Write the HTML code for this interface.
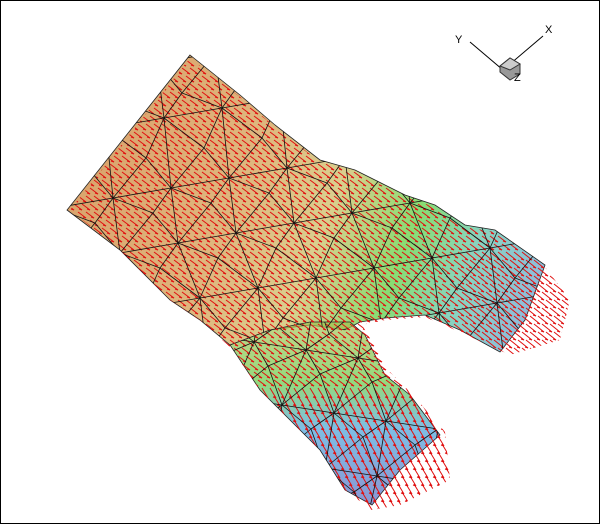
<!DOCTYPE html>
<html><head><meta charset="utf-8"><style>
html,body{margin:0;padding:0;background:#fff;overflow:hidden;width:600px;height:524px;}
#wrap{position:relative;width:600px;height:524px;overflow:hidden;}
svg{position:absolute;left:0;top:0;display:block;}
</style></head><body>
<div id="wrap">
<svg id="s" width="600" height="524" viewBox="0 0 600 524">
<defs>
<linearGradient id="gMain" gradientUnits="userSpaceOnUse" x1="110" y1="130" x2="545" y2="300">
<stop offset="0" stop-color="#c97a28"/>
<stop offset="0.3" stop-color="#cf9440"/>
<stop offset="0.5" stop-color="#c8b858"/>
<stop offset="0.68" stop-color="#50cc30"/>
<stop offset="0.82" stop-color="#50c0a0"/>
<stop offset="1" stop-color="#5a98d0"/>
</linearGradient>
<linearGradient id="gArm" gradientUnits="userSpaceOnUse" x1="0" y1="320" x2="0" y2="500">
<stop offset="0" stop-color="#a8c050"/>
<stop offset="0.35" stop-color="#60c840"/>
<stop offset="0.6" stop-color="#40a0d8"/>
<stop offset="1" stop-color="#5068c0"/>
</linearGradient>
<clipPath id="cMain"><polygon points="190,55 240,95 275,125 320,160 355,170 385,185 405,195 435,205 465,225 495,230 545,265 525,320 500,352 460,330 425,315 385,318 360,322 345,330 310,325 270,330 230,345 200,320 170,300 120,250 67,210"/></clipPath>
<clipPath id="cArm"><polygon points="230,345 270,330 310,322 350,322 365,335 385,375 410,395 440,435 400,470 372,505 345,490 320,450 300,430 260,390"/></clipPath>
<clipPath id="cAll"><polygon points="190,58 240,97 275,127 320,162 355,172 385,187 405,197 435,207 465,227 495,232 545,267 570,300 560,340 510,355 460,332 425,317 385,320 362,325 390,372 412,394 445,432 450,480 400,505 372,510 345,490 320,450 300,430 260,390 230,347 200,320 170,300 120,250 70,210"/></clipPath>
</defs>
<rect x="0.5" y="0.5" width="599" height="523" fill="#fff" stroke="#000"/>
<polygon points="190,55 240,95 275,125 320,160 355,170 385,185 405,195 435,205 465,225 495,230 545,265 525,320 500,352 460,330 425,315 385,318 360,322 345,330 310,325 270,330 230,345 200,320 170,300 120,250 67,210" fill="url(#gMain)" fill-opacity="0.68" stroke="#222" stroke-width="0.8"/>
<polygon points="230,345 270,330 310,322 350,322 365,335 385,375 410,395 440,435 400,470 372,505 345,490 320,450 300,430 260,390" fill="url(#gArm)" fill-opacity="0.68" stroke="#222" stroke-width="0.8"/>
<g id="arrows" clip-path="url(#cAll)" stroke="#e01010" stroke-width="1" fill="none"></g>
<g id="meshM" clip-path="url(#cMain)" stroke="#111" stroke-width="0.8" fill="none"></g>
<g id="meshA" clip-path="url(#cArm)" stroke="#111" stroke-width="0.8" fill="none"></g>
<g stroke="#000" stroke-width="1" fill="none">
<line x1="470" y1="42" x2="503" y2="70"/>
<line x1="503" y1="70" x2="543" y2="36"/>
<polygon points="500,66 510,58 520,64 520,74 510,80 500,72" fill="#999" stroke="#333"/>
<polygon points="500,66 510,58 520,64 510,70" fill="#ccc" stroke="#333"/>
</g>
<text x="455" y="43" font-family="Liberation Sans, sans-serif" font-size="11">Y</text>
<text x="545" y="33" font-family="Liberation Sans, sans-serif" font-size="11">X</text>
<text x="514" y="81" font-family="Liberation Sans, sans-serif" font-size="11">Z</text>
</svg>
</div>
<script>
var NS='http://www.w3.org/2000/svg';
function inside(x,y){return x>=0&&x<=600&&y>=0&&y<=520;}
function ln(g,x1,y1,x2,y2){if(!inside(x1,y1)||!inside(x2,y2))return null;var l=document.createElementNS(NS,'line');l.setAttribute('x1',x1);l.setAttribute('y1',y1);l.setAttribute('x2',x2);l.setAttribute('y2',y2);g.appendChild(l);return l;}
function jit(i,j,k){return (((i*7+j*13+k)%5)+5)%5-2;}
function lattice(g,ox,oy,ax,ay,bx,by,n,m){
  function P(i,j){return [ox+i*ax+j*bx+jit(i,j,0)*3,oy+i*ay+j*by+jit(i,j,3)*3];}
  for(var i=-n;i<=n;i++)for(var j=-m;j<=m;j++){
    var p=P(i,j),q=P(i+1,j),r=P(i,j+1),s=P(i+1,j+1);
    ln(g,p[0],p[1],q[0],q[1]);ln(g,p[0],p[1],r[0],r[1]);
    if((i+j)%2==0)ln(g,p[0],p[1],s[0],s[1]);else ln(g,q[0],q[1],r[0],r[1]);
  }
}
lattice(document.getElementById('meshM'),300,220,34,24,24,-34,10,10);
lattice(document.getElementById('meshA'),340,410,32,-22,20,30,7,7);
var gr=document.getElementById('arrows');
for(var y=60;y<505;y+=8){
  for(var x=60;x<570;x+=8){
    var px=x+((y/8)%2)*4,py=y;
    var dx=8,dy=6;
    if(px>450&&py>250){dx=10;dy=8;}
    if(py>380&&px<460){dx=6;dy=10;}
    var a=ln(gr,px,py,px+dx,py+dy);
    if(!a)continue;
    
    
    var h=ln(gr,px+dx,py+dy,px+dx-3,py+dy-1);
    if(!h)continue;
    
    
  }
}
</script>
</body></html>
